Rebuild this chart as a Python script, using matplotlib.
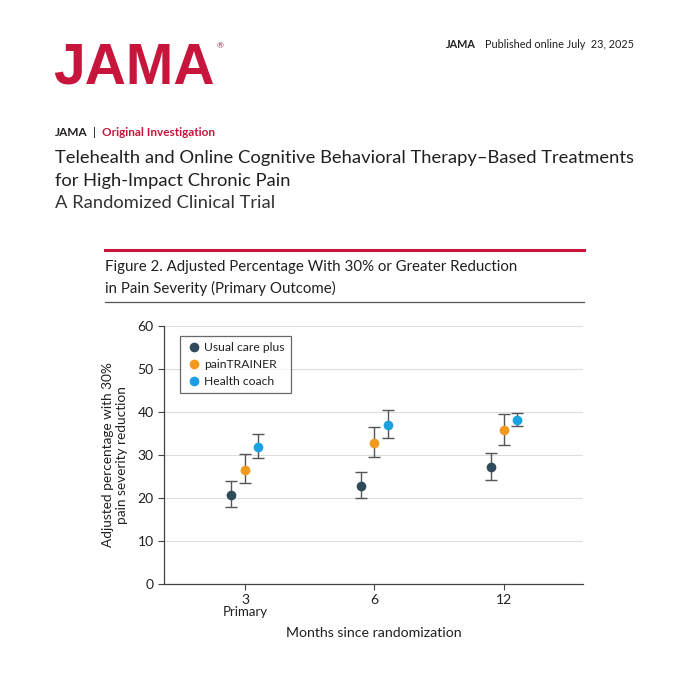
import numpy as np
import matplotlib
matplotlib.use('Agg')
import matplotlib.pyplot as plt
from matplotlib.lines import Line2D

## DATA
months = ['3', '6', '12']
groups = ['Usual care plus', 'painTRAINER', 'Health coach']
colors = ['#2f4b5b', '#f39a1d', '#1ba1e2']

usual = [20.7, 22.9, 27.1]
usual_lo = [17.9, 19.9, 24.1]
usual_hi = [24.0, 26.0, 30.5]

trainer = [26.5, 32.9, 35.8]
trainer_lo = [23.4, 29.5, 32.3]
trainer_hi = [30.2, 36.6, 39.5]

coach = [31.9, 37.0, 38.1]
coach_lo = [29.2, 34.0, 36.8]
coach_hi = [34.9, 40.5, 39.8]

series = [(usual, usual_lo, usual_hi),
          (trainer, trainer_lo, trainer_hi),
          (coach, coach_lo, coach_hi)]

RED = '#c8153c'
TXT = '#231f20'

plt.rcParams['font.family'] = ['Lato', 'DejaVu Sans']

fig = plt.figure(figsize=(6.8, 6.8), dpi=100)
fig.patch.set_facecolor('white')

## HEADER
fig.text(53 / 680, 1 - 84 / 680, 'JAMA', fontsize=41, fontweight='bold', color=RED,
         ha='left', va='baseline', family='Liberation Sans')
fig.text(217 / 680, 1 - 46 / 680, '®', fontsize=6, color=RED, ha='left', va='center')
fig.text(634 / 680, 1 - 44 / 680, 'Published online July  23, 2025', fontsize=7.8,
         color=TXT, ha='right', va='center')
fig.text(446 / 680, 1 - 44 / 680, 'JAMA', fontsize=7.8, fontweight='bold',
         color=TXT, ha='left', va='center')

fig.text(55 / 680, 1 - 133 / 680, 'JAMA', fontsize=8.5, fontweight='bold', color=TXT,
         ha='left', va='center')
fig.text(93 / 680, 1 - 133 / 680, '|', fontsize=8.5, color=TXT, ha='left', va='center')
fig.text(102 / 680, 1 - 133 / 680, 'Original Investigation', fontsize=8.5, fontweight='bold',
         color=RED, ha='left', va='center')

fig.text(55 / 680, 1 - 158 / 680,
         'Telehealth and Online Cognitive Behavioral Therapy–Based Treatments',
         fontsize=13.2, color=TXT, ha='left', va='center')
fig.text(55 / 680, 1 - 181 / 680, 'for High-Impact Chronic Pain',
         fontsize=13.2, color=TXT, ha='left', va='center')
fig.text(55 / 680, 1 - 203 / 680, 'A Randomized Clinical Trial',
         fontsize=13.2, color='#333333', ha='left', va='center')

fig.add_artist(Line2D([105 / 680, 584 / 680], [1 - 250 / 680] * 2, color=RED, lw=2.2))
fig.text(105 / 680, 1 - 267 / 680, 'Figure 2. Adjusted Percentage With 30% or Greater Reduction',
         fontsize=10.8, color=TXT, ha='left', va='center')
fig.text(105 / 680, 1 - 288 / 680, 'in Pain Severity (Primary Outcome)',
         fontsize=10.8, color=TXT, ha='left', va='center')
fig.add_artist(Line2D([105 / 680, 584 / 680], [1 - 302 / 680] * 2, color='#555555', lw=0.9))

## PLOT
ax = fig.add_axes([164 / 680, 1 - 584 / 680, (583 - 164) / 680, (584 - 326) / 680])
x = np.arange(len(months))
offsets = [-0.104, 0.0, 0.104]

for (vals, lo, hi), off, col, name in zip(series, offsets, colors, groups):
    vals = np.array(vals)
    err = [vals - np.array(lo), np.array(hi) - vals]
    ax.errorbar(x + off, vals, yerr=err, fmt='none', ecolor='#555555',
                elinewidth=1.0, capsize=4, capthick=1.0, zorder=2)
    ax.plot(x + off, vals, 'o', color=col, markersize=7, label=name, zorder=3,
            markeredgewidth=0)

ax.set_xlim(-0.625, 2.61)
ax.set_ylim(0, 60)
ax.set_yticks(np.arange(0, 61, 10))
ax.set_xticks(x)
ax.set_xticklabels(months)
ax.yaxis.grid(True, color='#dddddd', lw=0.8)
ax.set_axisbelow(True)
for s in ['top', 'right']:
    ax.spines[s].set_visible(False)
for s in ['left', 'bottom']:
    ax.spines[s].set_color('#444444')
    ax.spines[s].set_linewidth(0.9)
ax.tick_params(axis='both', colors='#444444', labelcolor=TXT, labelsize=10, length=4, width=0.8)

ax.text(0, -0.11, 'Primary', transform=ax.get_xaxis_transform(), ha='center', va='center',
        fontsize=9.5, color=TXT)
ax.set_xlabel('Months since randomization', fontsize=10.2, color=TXT, labelpad=15)
ax.set_ylabel('Adjusted percentage with 30%\npain severity reduction', fontsize=9.8,
              color=TXT, labelpad=7, linespacing=1.15)

leg = ax.legend(loc='upper left', bbox_to_anchor=(0.038, 0.96), frameon=True, fancybox=False,
                edgecolor='#444444', fontsize=8.7, handletextpad=0.2, borderpad=0.5,
                labelspacing=0.5, handlelength=1.3, markerscale=1.0, borderaxespad=0)
leg.get_frame().set_linewidth(0.9)
for t in leg.get_texts():
    t.set_color(TXT)

fig.savefig('out.png', dpi=100)
